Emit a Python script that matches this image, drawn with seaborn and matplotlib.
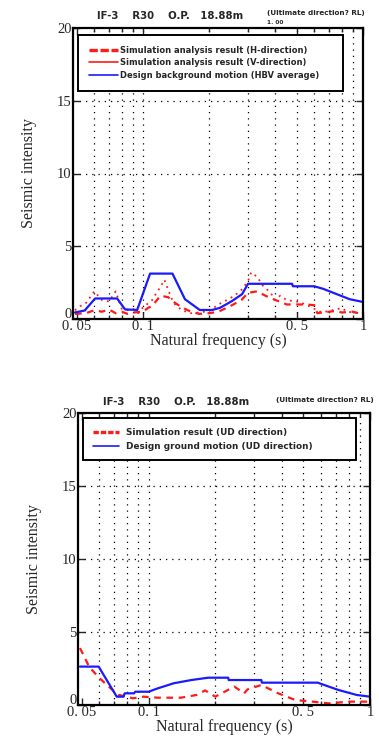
import numpy as np
import pandas as pd
import matplotlib
matplotlib.use("Agg")
import matplotlib.pyplot as plt
from matplotlib.lines import Line2D
from matplotlib.ticker import FixedLocator, NullFormatter
import matplotlib.transforms as mtransforms
import seaborn as sns

# ---------------- data ----------------
# Top panel
top_blue_x = [0.049, 0.0545, 0.0548, 0.0605, 0.0762, 0.0828, 0.094, 0.1076, 0.136, 0.155, 0.181, 0.206,
              0.224, 0.254, 0.282, 0.300, 0.476, 0.48, 0.60, 0.66, 0.87, 1.0]
top_blue_y = [0.45, 0.59, 0.66, 1.41, 1.41, 0.66, 0.62, 3.12, 3.12, 1.36, 0.62, 0.62,
              0.77, 1.24, 1.71, 2.42, 2.42, 2.25, 2.25, 2.07, 1.36, 1.17]

top_h_x = [0.049, 0.055, 0.06, 0.065, 0.07, 0.075, 0.08, 0.085, 0.09, 0.1, 0.105, 0.11, 0.12, 0.13, 0.14,
           0.15, 0.165, 0.18, 0.2, 0.22, 0.25, 0.28, 0.3, 0.33, 0.36, 0.4, 0.45, 0.5, 0.55, 0.6, 0.62,
           0.7, 0.75, 0.8, 0.9, 1.0]
top_h_y = [0.35, 0.4, 0.6, 0.5, 0.65, 0.4, 0.5, 0.35, 0.45, 0.5, 0.75, 0.9, 1.6, 1.5, 1.1,
           0.8, 0.5, 0.35, 0.4, 0.5, 0.9, 1.3, 1.8, 1.9, 1.6, 1.3, 1.0, 1.0, 1.0, 0.95, 0.4,
           0.5, 0.55, 0.45, 0.5, 0.3]

top_v_x = [0.049, 0.052, 0.055, 0.06, 0.065, 0.07, 0.075, 0.08, 0.085, 0.09, 0.095, 0.1, 0.11, 0.115,
           0.12, 0.125, 0.13, 0.135, 0.14, 0.15, 0.165, 0.18, 0.2, 0.22, 0.24, 0.26, 0.28, 0.3,
           0.31, 0.33, 0.35, 0.38, 0.4, 0.42, 0.45, 0.5, 0.55, 0.6, 0.65, 0.7, 0.8, 0.85, 0.9, 1.0]
top_v_y = [0.6, 0.9, 1.1, 1.9, 1.3, 1.2, 1.9, 0.7, 0.6, 0.7, 0.4, 0.8, 1.3, 1.8,
           2.2, 2.7, 2.0, 1.4, 1.0, 0.6, 0.4, 0.45, 0.55, 1.0, 1.3, 1.6, 2.0, 2.6,
           3.2, 2.9, 2.3, 1.8, 1.3, 1.6, 1.3, 1.2, 1.0, 0.7, 0.45, 0.55, 0.75, 0.5, 0.45, 0.4]

# Bottom panel
bot_blue_x = [0.049, 0.0595, 0.0718, 0.077, 0.078, 0.086, 0.087, 0.10, 0.11, 0.13, 0.156, 0.186, 0.229,
              0.23, 0.323, 0.325, 0.58, 0.72, 0.87, 1.0]
bot_blue_y = [2.63, 2.63, 0.57, 0.57, 0.80, 0.80, 0.91, 0.91, 1.14, 1.49, 1.71, 1.87, 1.87,
              1.71, 1.71, 1.53, 1.53, 1.03, 0.69, 0.57]

bot_h_x = [0.049, 0.054, 0.0595, 0.066, 0.073, 0.085, 0.095, 0.11, 0.14, 0.165, 0.18, 0.2, 0.244, 0.27,
           0.28, 0.323, 0.385, 0.46, 0.55, 0.65, 0.8, 1.0]
bot_h_y = [3.9, 2.6, 1.9, 1.26, 0.7, 0.46, 0.57, 0.5, 0.5, 0.69, 1.0, 0.57, 1.26, 0.8,
           1.07, 1.37, 0.8, 0.34, 0.23, 0.11, 0.23, 0.23]

x_ticks = [0.05, 0.1, 0.5, 1]
x_ticklabels = ["0. 05", "0. 1", "0. 5", "1"]
y_ticks = [0, 5, 10, 15, 20]
minor_ticks = [0.06, 0.07, 0.08, 0.09, 0.2, 0.3, 0.4, 0.6, 0.7, 0.8, 0.9]
grid_x = [0.06, 0.07, 0.08, 0.09, 0.1, 0.2, 0.3, 0.4, 0.5, 0.6, 0.7, 0.8, 0.9]
grid_y = [5, 10, 15]

title_main = "IF-3    R30    O.P.   18.88m"
title_side = "(Ultimate direction? RL)"
title_side2 = "1. 00"
top_labels = ["Simulation analysis result (H-direction)",
              "Simulation analysis result (V-direction)",
              "Design background motion (HBV average)"]
bot_labels = ["Simulation result (UD direction)",
              "Design ground motion (UD direction)"]
x_label = "Natural frequency (s)"
y_label = "Seismic intensity"

# ---------------- styling ----------------
sns.set_style("ticks")
plt.rcParams["font.family"] = ["Liberation Serif", "DejaVu Serif"]

RED = "#ff1a1a"
BLUE = "#1a1aff"

fig = plt.figure(figsize=(3.79, 7.47), dpi=100)
ax_top = fig.add_axes([73/379, 1-319/747, 290/379, 291/747])
ax_bot = fig.add_axes([78/379, 1-705/747, 292/379, 292/747])


def style_axes(ax):
    ax.set_xscale("log")
    ax.set_xlim(0.048, 1.0)
    ax.set_ylim(0, 20)
    ax.xaxis.set_major_locator(FixedLocator(x_ticks))
    ax.set_xticklabels(x_ticklabels)
    ax.xaxis.set_minor_locator(FixedLocator(minor_ticks))
    ax.xaxis.set_minor_formatter(NullFormatter())
    ax.set_yticks(y_ticks)
    ax.set_yticklabels([str(v) for v in y_ticks])
    ax.tick_params(axis="both", which="both", direction="in", top=True, right=True,
                   labelsize=10.5, width=1.0, pad=1)
    ax.tick_params(axis="both", which="major", length=5)
    ax.tick_params(axis="both", which="minor", length=3)
    # nudge the "0" label up a little so it clears the 0.05 label
    ylabs = ax.get_yticklabels()
    off = mtransforms.ScaledTranslation(0, 6/100, fig.dpi_scale_trans)
    ylabs[0].set_transform(ylabs[0].get_transform() + off)
    for s in ax.spines.values():
        s.set_linewidth(1.6)
        s.set_color("black")
    for gx in grid_x:
        ax.axvline(gx, color="black", lw=0.9, ls=(0, (1, 4)), zorder=0)
    for gy in grid_y:
        ax.axhline(gy, color="black", lw=0.9, ls=(0, (1, 4)), zorder=0)
    ax.set_xlabel(x_label, fontsize=11.5, labelpad=0)
    ax.set_ylabel(y_label, fontsize=11.5, labelpad=14)


# Top panel
df_tb = pd.DataFrame({"x": top_blue_x, "y": top_blue_y})
df_th = pd.DataFrame({"x": top_h_x, "y": top_h_y})
df_tv = pd.DataFrame({"x": top_v_x, "y": top_v_y})
sns.lineplot(data=df_tv, x="x", y="y", ax=ax_top, color=RED, lw=1.3, linestyle=(0, (1, 2.5)),
             sort=False, estimator=None)
sns.lineplot(data=df_th, x="x", y="y", ax=ax_top, color=RED, lw=1.6, linestyle=(0, (3, 2.5)),
             sort=False, estimator=None)
sns.lineplot(data=df_tb, x="x", y="y", ax=ax_top, color=BLUE, lw=1.6, sort=False, estimator=None)
style_axes(ax_top)

# Bottom panel
df_bb = pd.DataFrame({"x": bot_blue_x, "y": bot_blue_y})
df_bh = pd.DataFrame({"x": bot_h_x, "y": bot_h_y})
sns.lineplot(data=df_bh, x="x", y="y", ax=ax_bot, color=RED, lw=1.6, linestyle=(0, (3, 2.5)),
             sort=False, estimator=None)
sns.lineplot(data=df_bb, x="x", y="y", ax=ax_bot, color=BLUE, lw=1.6, sort=False, estimator=None)
style_axes(ax_bot)

# Legends
leg_font = {"family": "DejaVu Sans", "weight": "bold", "size": 6.0}
h_top = [Line2D([], [], color=RED, lw=2.4, ls=(0, (2.5, 0.8))),
         Line2D([], [], color=RED, lw=1.2),
         Line2D([], [], color=BLUE, lw=1.2)]
leg1 = ax_top.legend(h_top, top_labels, loc="upper left",
                     bbox_to_anchor=(0.017, 0.787, 0.913, 0.189), mode="expand",
                     prop=leg_font, frameon=True, fancybox=False, framealpha=1,
                     edgecolor="black", borderpad=1.3, labelspacing=0.42,
                     handlelength=3.5, handletextpad=0.2, borderaxespad=0)
leg1.get_frame().set_linewidth(1.4)

h_bot = [Line2D([], [], color=RED, lw=2.4, ls=(0, (1.6, 0.6))),
         Line2D([], [], color=BLUE, lw=1.2)]
leg2 = ax_bot.legend(h_bot, bot_labels, loc="upper left",
                     bbox_to_anchor=(0.017, 0.832, 0.935, 0.151), mode="expand",
                     prop=dict(leg_font, size=6.4), frameon=True, fancybox=False, framealpha=1,
                     edgecolor="black", borderpad=1.1, labelspacing=0.55,
                     handlelength=2.9, handletextpad=0.8, borderaxespad=0)
leg2.get_frame().set_linewidth(1.4)

# Titles
tfont = {"family": "DejaVu Sans", "weight": "bold", "size": 7.3}
sfont = {"family": "DejaVu Sans", "weight": "bold", "size": 5.2}
fig.text(97/379, 1-16/747, title_main, ha="left", va="center", fontdict=tfont)
fig.text(267/379, 1-13/747, title_side, ha="left", va="center", fontdict=sfont)
fig.text(267/379, 1-23/747, title_side2, ha="left", va="center",
         fontdict={"family": "DejaVu Sans", "weight": "bold", "size": 4.2})
fig.text(103/379, 1-402/747, title_main, ha="left", va="center", fontdict=tfont)
fig.text(276/379, 1-400/747, title_side, ha="left", va="center", fontdict=sfont)

fig.savefig("out.png", dpi=100)
